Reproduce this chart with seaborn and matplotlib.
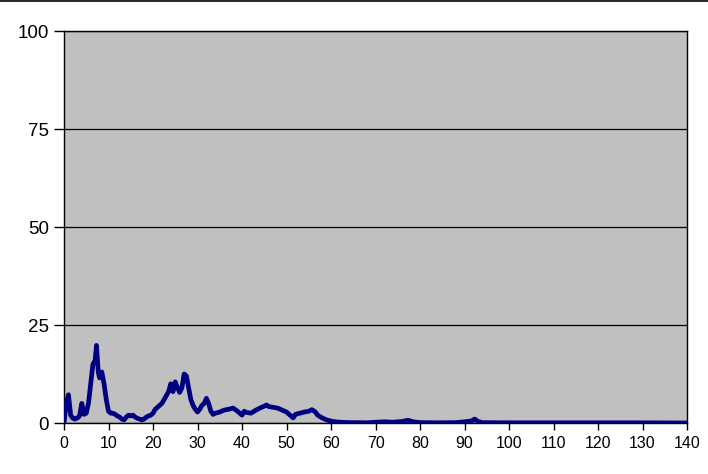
import numpy as np
import pandas as pd
import matplotlib
matplotlib.use("Agg")
import matplotlib.pyplot as plt
import seaborn as sns
from matplotlib.lines import Line2D

sns.set_style("ticks")
plt.rcParams['font.family'] = ['Liberation Sans', 'DejaVu Sans']

# values
x_vals = [0, 0.5, 1, 1.5, 2, 2.5, 3, 3.5, 4, 4.5, 5, 5.5, 6, 6.5, 7, 7.3, 7.7, 8, 8.5, 9,
          9.5, 10, 10.5, 11, 11.5, 12, 12.5, 13, 13.5, 14, 14.5, 15, 15.5, 16, 16.5, 17,
          17.5, 18, 18.5, 19, 19.5, 20, 20.5, 21, 21.5, 22, 22.5, 23, 23.5, 24, 24.5, 25,
          25.5, 26, 26.5, 27, 27.5, 28, 28.5, 29, 29.5, 30, 30.5, 31, 31.5, 32, 32.5, 33,
          33.5, 34, 35, 36, 37, 38, 39, 40, 40.5, 41, 42, 43, 44, 45, 45.5, 46, 47, 48,
          49, 50, 51, 51.5, 52, 53, 54, 55, 55.7, 56.5, 57, 58, 59, 60, 61, 62, 64, 66,
          68, 70, 72, 74, 76, 77.3, 78.5, 80, 84, 88, 90, 91.5, 92.3, 93, 94, 100, 110,
          120, 130, 140]
y_vals = [0, 5, 7.2, 2, 1.2, 1.0, 1.3, 1.8, 5, 2.2, 2.5, 5, 10, 15, 16, 19.8, 13, 11.5, 13, 10,
          6, 3, 2.5, 2.5, 2.2, 1.8, 1.5, 1, 0.8, 1.5, 2, 1.8, 2, 1.5, 1.2, 1,
          0.8, 1, 1.5, 1.8, 2, 2.5, 3.5, 4, 4.5, 5, 6, 7, 8, 10, 8, 10.5,
          9, 7.8, 9, 12.5, 12, 9, 6, 4.5, 3.5, 2.8, 3.5, 4.5, 5, 6.3, 5, 3,
          2.2, 2.5, 2.8, 3.3, 3.5, 3.8, 3, 2, 3, 2.7, 2.5, 3.2, 3.8, 4.3, 4.6, 4.2, 4, 3.8,
          3.3, 2.8, 1.8, 1.3, 2.2, 2.5, 2.8, 3, 3.4, 2.8, 2, 1.3, 0.8, 0.5, 0.3, 0.2, 0.1, 0.1,
          0.05, 0.2, 0.3, 0.2, 0.4, 0.7, 0.3, 0.1, 0.05, 0.1, 0.3, 0.5, 1.0, 0.4, 0.1, 0.05, 0.05,
          0.05, 0.05, 0]
x_ticks = list(range(0, 141, 10))
y_ticks = [0, 25, 50, 75, 100]

df = pd.DataFrame({'x': x_vals, 'y': y_vals})

fig = plt.figure(figsize=(7.08, 4.74), dpi=100)
ax = fig.add_axes([64 / 708, 51 / 474, 623 / 708, 392 / 474])
ax.set_facecolor('#C0C0C0')

sns.lineplot(data=df, x='x', y='y', ax=ax, color='#000080', lw=3.4, zorder=3)

ax.set_xlim(0, 140)
ax.set_ylim(0, 100)
ax.set_xticks(x_ticks)
ax.set_yticks(y_ticks)
ax.set_xlabel('')
ax.set_ylabel('')
ax.grid(axis='y', color='black', lw=0.9)
ax.set_axisbelow(True)
for s in ax.spines.values():
    s.set_color('black')
    s.set_linewidth(1.0)
ax.tick_params(axis='y', length=7, width=1, labelsize=13.5, pad=4, color='black', labelcolor='black')
ax.tick_params(axis='x', length=5, width=1, labelsize=11.5, pad=4, color='black', labelcolor='black')

# line across the very top of the image
fig.add_artist(Line2D([0, 1], [0.998, 0.998], color='black', lw=1.2, transform=fig.transFigure))

fig.savefig('out.png', dpi=100)
